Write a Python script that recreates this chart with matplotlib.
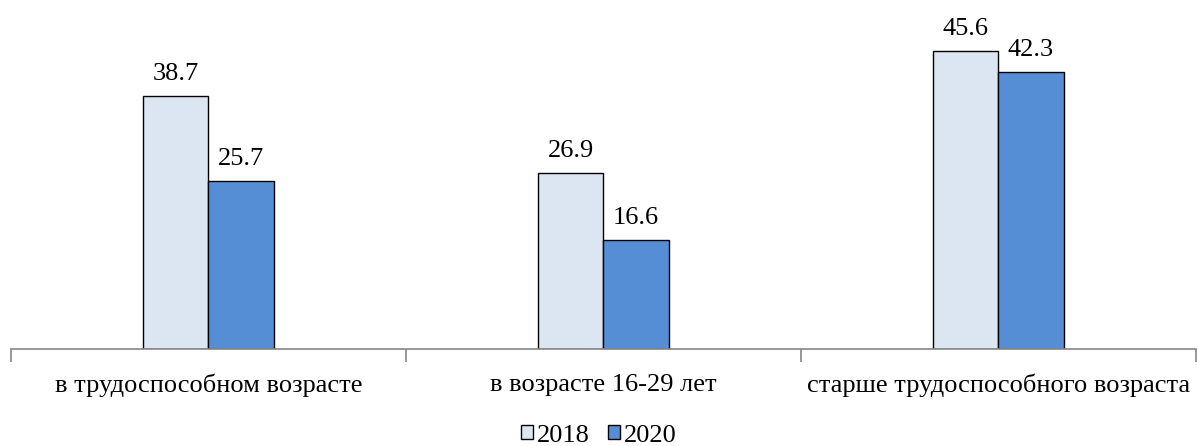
import matplotlib.pyplot as plt
import numpy as np

plt.rcParams['font.family'] = ['Liberation Serif', 'DejaVu Serif']

categories = ["в трудоспособном возрасте", "в возрасте 16-29 лет", "старше трудоспособного возраста"]
years = ["2018", "2020"]
v2018 = [38.7, 26.9, 45.6]
v2020 = [25.7, 16.6, 42.3]
colors = ["#DCE6F2", "#558ED5"]

fig = plt.figure(figsize=(11.98, 4.46), dpi=100)
ax = fig.add_axes([0.0092, 0.2175, 0.9888, 0.7332])

x = np.arange(len(categories))
w = 0.166
b1 = ax.bar(x - w/2, v2018, w, color=colors[0], edgecolor="black", linewidth=1, label=years[0])
b2 = ax.bar(x + w/2, v2020, w, color=colors[1], edgecolor="black", linewidth=1, label=years[1])

for bars, vals in [(b1, v2018), (b2, v2020)]:
    for r, v in zip(bars, vals):
        ax.annotate(f"{v:.1f}", (r.get_x() + r.get_width()/2, v), xytext=(0, 8),
                    textcoords="offset points", ha="center", va="bottom",
                    fontsize=19, annotation_clip=False)

ax.set_xlim(-0.5, 2.5)
ax.set_ylim(0, 50)
ax.set_yticks([])
for s in ["top", "right", "left"]:
    ax.spines[s].set_visible(False)
ax.spines["bottom"].set_color("#868686")
ax.spines["bottom"].set_linewidth(1.2)

ax.set_xticks([-0.5, 0.5, 1.5, 2.5])
ax.set_xticklabels([])
ax.tick_params(axis="x", which="major", length=9, color="#868686", width=1.2)
ax.set_xticks(x, minor=True)
ax.set_xticklabels(categories, minor=True, fontsize=19)
ax.tick_params(axis="x", which="minor", length=0, pad=18)

fig.legend(loc="lower center", bbox_to_anchor=(0.5, -0.055), ncol=2, frameon=False,
           fontsize=19, handlelength=0.45, handleheight=0.45, handletextpad=0.15,
           columnspacing=0.7)

fig.savefig("out.png", dpi=100)
